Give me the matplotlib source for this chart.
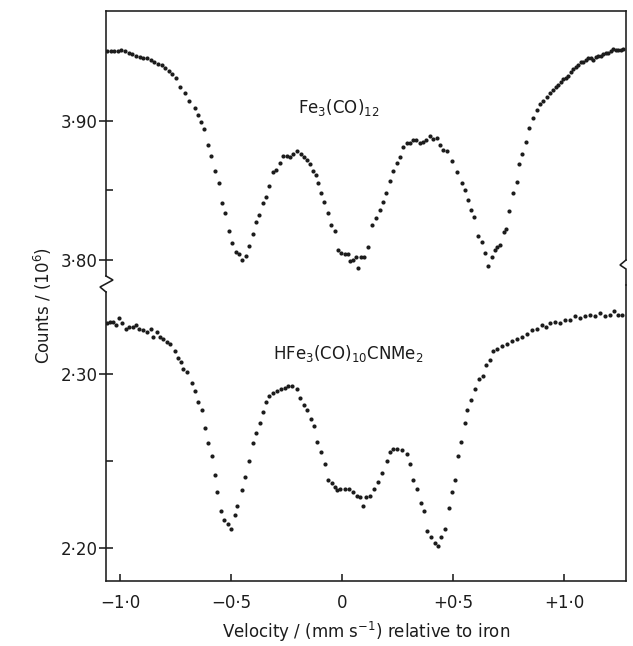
import matplotlib
matplotlib.use("Agg")
import matplotlib.pyplot as plt
from matplotlib.lines import Line2D

# ---------------- data (velocity in mm/s, counts in 10^6) ----------------
fe_velocity = [
    -1.059, -1.041, -1.027, -1.009, -0.995, -0.977, -0.959, -0.946, -0.928, -0.910,
    -0.896, -0.878, -0.860, -0.847, -0.829, -0.811, -0.797, -0.779, -0.766, -0.748,
    -0.730, -0.707, -0.689, -0.662, -0.649, -0.635, -0.622, -0.604, -0.590, -0.572,
    -0.554, -0.541, -0.527, -0.509, -0.495, -0.477, -0.464, -0.450, -0.432, -0.419,
    -0.401, -0.387, -0.374, -0.356, -0.342, -0.329, -0.311, -0.297, -0.279, -0.266,
    -0.248, -0.234, -0.221, -0.203, -0.185, -0.171, -0.158, -0.144, -0.131, -0.117,
    -0.108, -0.095, -0.081, -0.063, -0.050, -0.032, -0.018, -0.005, 0.014, 0.027,
    0.036, 0.050, 0.063, 0.072, 0.086, 0.099, 0.117, 0.135, 0.153, 0.171,
    0.185, 0.198, 0.216, 0.230, 0.248, 0.261, 0.275, 0.293, 0.306, 0.320,
    0.333, 0.351, 0.365, 0.378, 0.396, 0.410, 0.428, 0.441, 0.455, 0.473,
    0.495, 0.518, 0.541, 0.554, 0.568, 0.581, 0.595, 0.613, 0.631, 0.644,
    0.658, 0.676, 0.689, 0.698, 0.712, 0.730, 0.739, 0.752, 0.770, 0.788,
    0.797, 0.811, 0.829, 0.842, 0.860, 0.878, 0.892, 0.905, 0.923, 0.937,
    0.950, 0.964, 0.973, 0.986, 0.995, 1.009, 1.018, 1.032, 1.041, 1.054,
    1.063, 1.077, 1.086, 1.099, 1.108, 1.122, 1.131, 1.144, 1.153, 1.167,
    1.176, 1.189, 1.198, 1.212, 1.221, 1.234, 1.243, 1.257, 1.266,
]
fe_counts = [
    3.950, 3.950, 3.950, 3.950, 3.951, 3.950, 3.949, 3.948, 3.947, 3.946,
    3.945, 3.945, 3.944, 3.942, 3.941, 3.940, 3.938, 3.936, 3.934, 3.931,
    3.924, 3.920, 3.914, 3.909, 3.904, 3.899, 3.894, 3.883, 3.875, 3.864,
    3.855, 3.841, 3.834, 3.821, 3.812, 3.806, 3.804, 3.800, 3.803, 3.810,
    3.819, 3.827, 3.832, 3.841, 3.845, 3.853, 3.863, 3.865, 3.870, 3.875,
    3.875, 3.874, 3.876, 3.878, 3.876, 3.874, 3.872, 3.869, 3.864, 3.861,
    3.855, 3.848, 3.842, 3.834, 3.825, 3.821, 3.807, 3.805, 3.804, 3.804,
    3.799, 3.800, 3.802, 3.794, 3.802, 3.802, 3.809, 3.825, 3.830, 3.836,
    3.842, 3.848, 3.857, 3.864, 3.870, 3.874, 3.881, 3.884, 3.884, 3.886,
    3.886, 3.884, 3.885, 3.886, 3.889, 3.887, 3.888, 3.883, 3.879, 3.878,
    3.871, 3.863, 3.855, 3.850, 3.843, 3.836, 3.831, 3.817, 3.813, 3.805,
    3.796, 3.802, 3.807, 3.809, 3.811, 3.820, 3.822, 3.835, 3.848, 3.856,
    3.869, 3.876, 3.885, 3.895, 3.902, 3.908, 3.912, 3.914, 3.917, 3.920,
    3.922, 3.924, 3.926, 3.928, 3.930, 3.931, 3.932, 3.935, 3.937, 3.939,
    3.940, 3.942, 3.942, 3.944, 3.945, 3.945, 3.944, 3.946, 3.947, 3.947,
    3.948, 3.949, 3.949, 3.950, 3.952, 3.951, 3.951, 3.951, 3.952,
]

hfe_velocity = [
    -1.059, -1.045, -1.032, -1.018, -1.005, -0.991, -0.973, -0.959, -0.941, -0.928,
    -0.914, -0.896, -0.878, -0.860, -0.851, -0.833, -0.820, -0.806, -0.788, -0.775,
    -0.752, -0.739, -0.725, -0.716, -0.698, -0.676, -0.662, -0.649, -0.631, -0.617,
    -0.604, -0.586, -0.572, -0.563, -0.545, -0.532, -0.514, -0.500, -0.482, -0.473,
    -0.450, -0.437, -0.419, -0.401, -0.387, -0.369, -0.356, -0.342, -0.329, -0.311,
    -0.293, -0.275, -0.257, -0.243, -0.225, -0.203, -0.189, -0.171, -0.158, -0.140,
    -0.126, -0.113, -0.095, -0.077, -0.063, -0.045, -0.032, -0.023, -0.009, 0.014,
    0.032, 0.050, 0.068, 0.081, 0.095, 0.108, 0.126, 0.144, 0.162, 0.180,
    0.203, 0.216, 0.230, 0.248, 0.270, 0.293, 0.306, 0.320, 0.338, 0.356,
    0.369, 0.383, 0.401, 0.419, 0.432, 0.446, 0.464, 0.482, 0.495, 0.509,
    0.523, 0.536, 0.554, 0.563, 0.581, 0.599, 0.617, 0.635, 0.649, 0.667,
    0.680, 0.698, 0.721, 0.743, 0.766, 0.788, 0.811, 0.833, 0.856, 0.878,
    0.901, 0.919, 0.937, 0.959, 0.982, 1.005, 1.027, 1.050, 1.072, 1.095,
    1.117, 1.140, 1.162, 1.185, 1.207, 1.225, 1.243, 1.261,
]
hfe_counts = [
    2.329, 2.330, 2.330, 2.328, 2.332, 2.329, 2.326, 2.327, 2.327, 2.328,
    2.326, 2.325, 2.324, 2.326, 2.321, 2.324, 2.321, 2.320, 2.318, 2.317,
    2.313, 2.309, 2.307, 2.303, 2.301, 2.295, 2.290, 2.284, 2.279, 2.269,
    2.260, 2.253, 2.242, 2.232, 2.221, 2.216, 2.214, 2.211, 2.219, 2.224,
    2.233, 2.241, 2.250, 2.260, 2.266, 2.272, 2.278, 2.284, 2.287, 2.289,
    2.290, 2.291, 2.292, 2.293, 2.293, 2.291, 2.286, 2.282, 2.279, 2.274,
    2.270, 2.261, 2.255, 2.248, 2.239, 2.237, 2.235, 2.233, 2.234, 2.234,
    2.234, 2.232, 2.230, 2.229, 2.224, 2.229, 2.230, 2.234, 2.238, 2.243,
    2.250, 2.255, 2.257, 2.257, 2.256, 2.254, 2.248, 2.239, 2.234, 2.226,
    2.221, 2.210, 2.206, 2.203, 2.201, 2.206, 2.211, 2.223, 2.232, 2.239,
    2.253, 2.261, 2.272, 2.279, 2.285, 2.291, 2.297, 2.299, 2.305, 2.308,
    2.313, 2.314, 2.316, 2.317, 2.319, 2.320, 2.321, 2.323, 2.325, 2.326,
    2.328, 2.327, 2.329, 2.330, 2.329, 2.331, 2.331, 2.333, 2.332, 2.333,
    2.334, 2.333, 2.335, 2.333, 2.334, 2.336, 2.334, 2.334,
]

x_ticks = [-1.0, -0.5, 0.0, 0.5, 1.0]
x_ticklabels = ["\u22121\u00b70", "\u22120\u00b75", "0", "+0\u00b75", "+1\u00b70"]
top_yticks = [3.80, 3.90]
top_yticklabels = ["3\u00b780", "3\u00b790"]
bot_yticks = [2.20, 2.30]
bot_yticklabels = ["2\u00b720", "2\u00b730"]
label_top = r"Fe$_3$(CO)$_{12}$"
label_bot = r"HFe$_3$(CO)$_{10}$CNMe$_2$"
xlabel = r"Velocity / (mm s$^{-1}$) relative to iron"
ylabel = r"Counts / (10$^6$)"

# ---------------- figure ----------------
W, H = 633, 646
fig = plt.figure(figsize=(W / 100, H / 100), dpi=100)
plt.rcParams["font.family"] = ["DejaVu Sans"]
plt.rcParams["mathtext.fontset"] = "dejavusans"

def fx(x):
    return x / W

def fy(y):
    return 1 - y / H

ink = "#1c1c1c"
lw = 1.15
L, R, T, B, BRK = 106, 626, 11, 581, 285

ax_top = fig.add_axes([fx(L), fy(BRK), (R - L) / W, (BRK - T) / H])
ax_bot = fig.add_axes([fx(L), fy(B), (R - L) / W, (B - BRK) / H])

xlim = (-1.063, 1.279)
ax_top.set_xlim(*xlim)
ax_bot.set_xlim(*xlim)
ax_top.set_ylim(3.782, 3.979)
ax_bot.set_ylim(2.181, 2.351)

ax_top.plot(fe_velocity, fe_counts, "o", ms=3.0, color=ink, mec="none")
ax_bot.plot(hfe_velocity, hfe_counts, "o", ms=3.0, color=ink, mec="none")

for ax in (ax_top, ax_bot):
    for s in ax.spines.values():
        s.set_linewidth(lw)
        s.set_color(ink)
    ax.tick_params(axis="y", which="major", direction="inout", length=10,
                   width=lw, color=ink, labelsize=12, pad=1, labelcolor=ink)
    ax.tick_params(axis="y", which="minor", direction="in", length=5,
                   width=lw, color=ink)

ax_top.spines["bottom"].set_visible(False)
ax_bot.spines["top"].set_visible(False)
ax_top.tick_params(axis="x", which="both", bottom=False, labelbottom=False)

ax_top.set_yticks(top_yticks)
ax_top.set_yticklabels(top_yticklabels)
ax_top.set_yticks([3.85], minor=True)
ax_bot.set_yticks(bot_yticks)
ax_bot.set_yticklabels(bot_yticklabels)
ax_bot.set_yticks([2.25], minor=True)

ax_bot.set_xticks(x_ticks)
ax_bot.set_xticklabels(x_ticklabels)
ax_bot.tick_params(axis="x", which="major", direction="in", length=5, width=lw,
                   color=ink, labelsize=12, pad=9, labelcolor=ink)

# spine bounds around the axis breaks
ax_top.spines["left"].set_bounds(3.7885, 3.979)
ax_top.spines["right"].set_bounds(3.800, 3.979)
ax_bot.spines["left"].set_bounds(2.181, 2.3471)

def px_line(pts):
    xs = [fx(p[0]) for p in pts]
    ys = [fy(p[1]) for p in pts]
    fig.add_artist(Line2D(xs, ys, transform=fig.transFigure, color=ink,
                          lw=lw, solid_joinstyle="miter"))

px_line([(106, 276), (113, 280), (100, 287), (106, 292)])
px_line([(626, 260), (620, 265), (626, 269), (626, 285)])

ax_top.text(-0.198, 3.9058, label_top, fontsize=12, color=ink,
            ha="left", va="baseline")
ax_bot.text(-0.311, 2.3086, label_bot, fontsize=12, color=ink,
            ha="left", va="baseline")

ax_bot.set_xlabel(xlabel, fontsize=12, color=ink, labelpad=6)
fig.text(fx(43), fy(305), ylabel, rotation=90, fontsize=12, color=ink,
         ha="center", va="center")

fig.savefig("out.png", dpi=100, facecolor="white")
